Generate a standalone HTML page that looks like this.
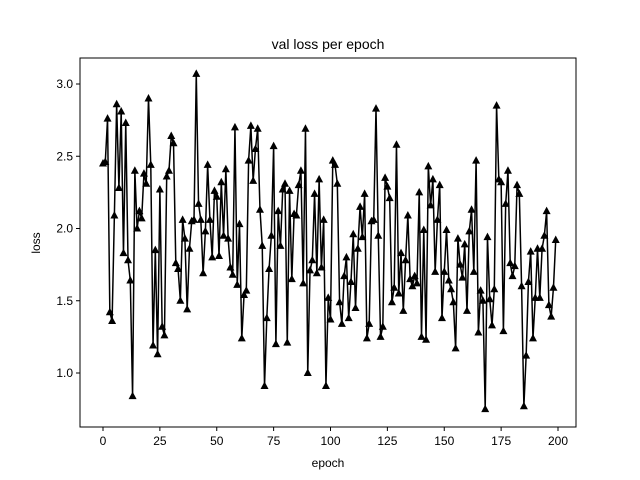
<!DOCTYPE html>
<html><head><meta charset="utf-8"><style>
body{margin:0;background:#fff;}
svg{display:block;font-family:"Liberation Sans","DejaVu Sans",sans-serif;}
</style></head><body>
<svg id="chart" width="640" height="480">
<rect width="640" height="480" fill="#fff"/>
<text x="328" y="49" font-size="14" text-anchor="middle">val loss per epoch</text>
<text x="328" y="467" font-size="12" text-anchor="middle">epoch</text>
<text x="40" y="243" font-size="12" text-anchor="middle" transform="rotate(-90 40 243)">loss</text>
<g id="ticks"></g>
<g id="series"></g>
<rect x="80" y="58" width="496" height="369" fill="none" stroke="#000" stroke-width="1"/>
</svg>
<script>
const xTicks=[0,25,50,75,100,125,150,175,200];
const yTicks=[1.0,1.5,2.0,2.5,3.0];
const yTickLabels=["1.0","1.5","2.0","2.5","3.0"];
const lossValues=[2.45,2.46,2.76,1.42,1.36,2.09,2.86,2.28,2.81,1.83,2.73,1.78,1.64,0.84,2.40,2.00,2.12,2.07,2.38,2.31,2.90,2.44,1.19,1.85,1.13,2.27,1.32,1.26,2.36,2.40,2.64,2.59,1.76,1.72,1.50,2.06,1.93,1.44,1.86,2.05,2.06,3.07,
2.17,2.06,1.69,1.98,2.44,2.06,1.80,2.26,2.22,1.81,2.32,1.95,2.41,1.93,1.73,1.68,2.70,1.61,2.03,1.24,
1.54,1.57,2.47,2.71,2.33,2.55,2.69,2.13,1.88,0.91,1.38,1.72,1.95,2.57,1.20,2.12,1.88,2.27,2.31,1.21,
2.26,1.65,2.10,2.09,2.30,2.40,1.62,2.69,1.00,1.71,1.78,2.24,1.69,2.34,1.73,2.06,0.91,
1.52,1.37,2.47,2.44,2.31,1.49,1.34,1.67,1.80,1.38,1.63,1.96,1.45,1.86,2.15,1.94,2.24,1.24,1.34,2.05,2.06,2.83,
1.95,1.25,1.32,2.35,2.29,2.21,1.49,1.59,2.58,1.55,1.83,1.43,1.78,2.09,1.65,1.60,1.67,1.62,2.25,1.25,
1.99,1.23,2.43,2.16,2.34,1.70,2.06,2.30,1.38,1.70,1.99,1.64,1.58,1.49,1.17,1.93,1.75,1.66,1.89,1.43,
1.98,2.13,1.70,2.47,1.28,1.57,1.50,0.75,1.94,1.51,1.33,1.58,2.85,
2.34,2.32,1.29,2.17,2.40,1.76,1.67,1.74,2.30,2.24,1.60,0.77,
1.12,1.63,1.84,1.24,1.52,1.86,1.52,1.86,1.95,2.12,1.47,1.39,1.59,1.92];
const NS="http://www.w3.org/2000/svg";
function xs(v){return 103+(v)*(455/200);}
function ys(v){return 373-(v-1.0)*144.5;}
const tg=document.getElementById('ticks');
function mk(tag,attrs,parent){const e=document.createElementNS(NS,tag);for(const k in attrs)e.setAttribute(k,attrs[k]);parent.appendChild(e);return e;}
xTicks.forEach(t=>{
  const l=mk('line',{x1:xs(t),x2:xs(t),y1:427,y2:431,stroke:'#000'},tg);
  
  
  const tx=mk('text',{x:xs(t),y:445,'font-size':12,'text-anchor':'middle'},tg);
  tx.textContent=String(t);
  
  
});
yTicks.forEach((t,i)=>{
  const l=mk('line',{x1:76,x2:80,y1:ys(t),y2:ys(t),stroke:'#000'},tg);
  
  
  const tx=mk('text',{x:73,y:ys(t)+4,'font-size':12,'text-anchor':'end'},tg);
  tx.textContent=yTickLabels[i];
  
  
});
const sg=document.getElementById('series');
const pts=lossValues.map((v,i)=>xs(i).toFixed(2)+','+ys(v).toFixed(2)).join(' ');
const pl=mk('polyline',{points:pts,fill:'none',stroke:'#000','stroke-width':1.5,'stroke-linejoin':'round'},sg);


lossValues.forEach((v,i)=>{
  const x=xs(i),y=ys(v);
  const p=mk('polygon',{points:`${x},${y-4.5} ${x-4},${y+3} ${x+4},${y+3}`,fill:'#000'},sg);
  
  
});
</script>
</body></html>
